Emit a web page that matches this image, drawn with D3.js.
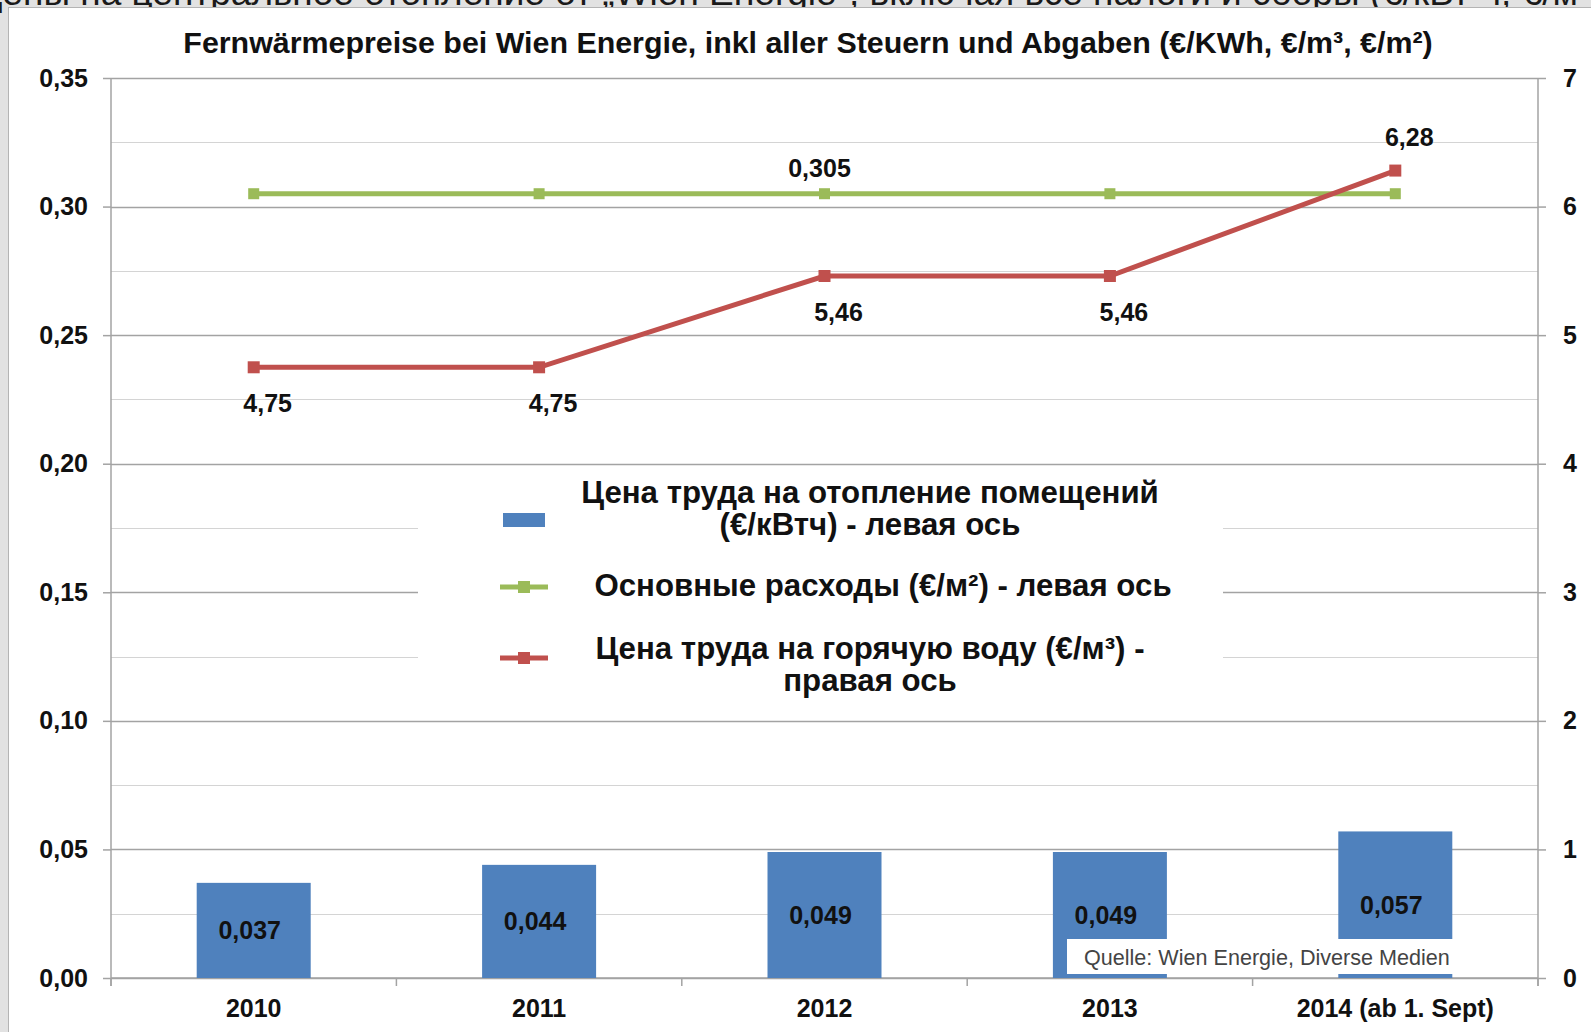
<!DOCTYPE html>
<html>
<head>
<meta charset="utf-8">
<script src="https://cdn.jsdelivr.net/npm/d3@7"></script>
<style>
  body { margin: 0; background: #dcdcdc; }
  svg { display: block; }
  text { font-family: "Liberation Sans", Arial, sans-serif; }
</style>
</head>
<body>
<script>
// data
const years = ['2010', '2011', '2012', '2013', '2014 (ab 1. Sept)']
const heatPrice = [0.037, 0.044, 0.049, 0.049, 0.057]      // bars, left axis
const baseCost = [0.305, 0.305, 0.305, 0.305, 0.305]       // green, left axis
const waterPrice = [4.75, 4.75, 5.46, 5.46, 6.28]          // red, right axis
const leftTicks = [0, 0.05, 0.10, 0.15, 0.20, 0.25, 0.30, 0.35]
const rightTicks = [0, 1, 2, 3, 4, 5, 6, 7]
const gridValues = d3.range(0, 0.3501, 0.025)

const title = 'Fernwärmepreise bei Wien Energie, inkl aller Steuern und Abgaben (€/KWh, €/m³, €/m²)'
const pageCaption = 'Цены на центральное отопление от „Wien Energie“, включая все налоги и сборы (€/кВт·ч, €/м³, €/м²)'
const legendItems = [
  {kind: 'bar', lines: ['Цена труда на отопление помещений', '(€/кВтч) - левая ось']},
  {kind: 'green', lines: ['Основные расходы (€/м²) - левая ось']},
  {kind: 'red', lines: ['Цена труда на горячую воду (€/м³) -', 'правая ось']}
]
const source = 'Quelle: Wien Energie, Diverse Medien'

const blue = '#4f81bd', green = '#9bbb59', red = '#c0504d'

// set the font size of a text so that it is w pixels wide
function fitWidth(sel, w) {
  const size = +sel.attr('font-size')
  sel.attr('font-size', size * w / sel.node().getComputedTextLength())
}

function drawChart() {
  const svgWidth = 1591, svgHeight = 1032
  const plot = {left: 111, right: 1538, top: 78, bottom: 978}
  const comma = d3.formatLocale({decimal: ',', thousands: ' ', grouping: [3], currency: ['', '€']})

  const svg = d3.select('body').append('svg')
    .attr('width', svgWidth)
    .attr('height', svgHeight)

  // page around the chart frame (its caption is cut by the top edge)
  svg.append('rect').attr('width', svgWidth).attr('height', svgHeight).attr('fill', '#e2e2e2')
  svg.append('text')
    .attr('x', -25).attr('y', 5)
    .attr('font-size', 37)
    .attr('fill', '#1a1a1a')
    .text(pageCaption)
  svg.append('rect')
    .attr('x', 8.5).attr('y', 7.5)
    .attr('width', svgWidth).attr('height', svgHeight)
    .attr('fill', '#fff')
    .attr('stroke', '#b4b4b4')

  const x = d3.scaleBand().domain(years).range([plot.left, plot.right])
  const yL = d3.scaleLinear().domain([0, 0.35]).range([plot.bottom, plot.top])
  const yR = d3.scaleLinear().domain([0, 7]).range([plot.bottom, plot.top])
  const cx = d => x(d) + x.bandwidth() / 2

  // gridlines, major every 0.05, minor in between
  svg.append('g').selectAll('line')
    .data(gridValues)
    .join('line')
    .attr('x1', plot.left).attr('x2', plot.right)
    .attr('y1', d => Math.round(yL(d)) + 0.5).attr('y2', d => Math.round(yL(d)) + 0.5)
    .attr('stroke', (d, i) => i % 2 === 0 ? '#a3a3a3' : '#d4d4d4')
    .attr('stroke-width', (d, i) => i % 2 === 0 ? 1.5 : 1.2)

  // legend box covers the gridlines
  const legend = svg.append('g')
  legend.append('rect')
    .attr('x', 418).attr('y', 470)
    .attr('width', 805).attr('height', 242)
    .attr('fill', '#fff')

  // axes
  const axisLeft = svg.append('g')
    .attr('transform', 'translate(' + plot.left + ',0)')
    .call(d3.axisLeft(yL).tickValues(leftTicks).tickSize(8).tickPadding(15)
      .tickFormat(comma.format('.2f')))
  const axisRight = svg.append('g')
    .attr('transform', 'translate(' + plot.right + ',0)')
    .call(d3.axisRight(yR).tickValues(rightTicks).tickSize(8).tickPadding(17)
      .tickFormat(d3.format('d')))
  const axisBottom = svg.append('g')
    .attr('transform', 'translate(0,' + plot.bottom + ')')
    .call(d3.axisBottom(x).tickSize(0).tickPadding(21))
  axisBottom.append('g').selectAll('line')
    .data(years.map(d => x(d)).concat([plot.right]))
    .join('line')
    .attr('x1', d => d).attr('x2', d => d)
    .attr('y1', 0).attr('y2', 8)
    .attr('stroke', '#a3a3a3').attr('stroke-width', 1.5)

  for (const g of [axisLeft, axisRight, axisBottom]) {
    g.select('.domain').attr('stroke', '#a3a3a3').attr('stroke-width', 1.5)
    g.selectAll('.tick line').attr('stroke', '#a3a3a3').attr('stroke-width', 1.5)
    g.selectAll('.tick text')
      .attr('font-family', '"Liberation Sans", Arial, sans-serif')
      .attr('font-weight', 'bold')
      .attr('font-size', 25)
      .attr('fill', '#111')
  }
  axisLeft.select('.domain').attr('d', 'M0,' + plot.top + 'V' + (plot.bottom + 8))
  axisRight.select('.domain').attr('d', 'M0,' + plot.top + 'V' + (plot.bottom + 8))
  axisBottom.select('.domain').attr('d', 'M' + plot.left + ',0H' + plot.right)

  // bars
  const barW = 114
  svg.append('g').selectAll('rect')
    .data(heatPrice)
    .join('rect')
    .attr('x', (d, i) => cx(years[i]) - barW / 2)
    .attr('y', d => yL(d))
    .attr('width', barW)
    .attr('height', d => plot.bottom - yL(d))
    .attr('fill', blue)

  svg.append('g').selectAll('text')
    .data(heatPrice)
    .join('text')
    .attr('x', (d, i) => cx(years[i]) - 4)
    .attr('y', d => (yL(d) + plot.bottom) / 2 + 9)
    .attr('text-anchor', 'middle')
    .attr('font-weight', 'bold')
    .attr('font-size', 25)
    .attr('fill', '#111')
    .text(d => comma.format('.3f')(d))

  // green line
  const greenLine = d3.line().x((d, i) => cx(years[i])).y(d => yL(d))
  svg.append('path')
    .datum(baseCost)
    .attr('d', greenLine)
    .attr('fill', 'none')
    .attr('stroke', green)
    .attr('stroke-width', 5)
  svg.append('g').selectAll('rect')
    .data(baseCost)
    .join('rect')
    .attr('x', (d, i) => cx(years[i]) - 5.5)
    .attr('y', d => yL(d) - 5.5)
    .attr('width', 11).attr('height', 11)
    .attr('fill', green)
  svg.append('text')
    .attr('x', cx(years[2]) - 5)
    .attr('y', yL(baseCost[2]) - 17)
    .attr('text-anchor', 'middle')
    .attr('font-weight', 'bold')
    .attr('font-size', 25)
    .attr('fill', '#111')
    .text(comma.format('.3f')(baseCost[2]))

  // red line
  const redLine = d3.line().x((d, i) => cx(years[i])).y(d => yR(d))
  svg.append('path')
    .datum(waterPrice)
    .attr('d', redLine)
    .attr('fill', 'none')
    .attr('stroke', red)
    .attr('stroke-width', 5)
  svg.append('g').selectAll('rect')
    .data(waterPrice)
    .join('rect')
    .attr('x', (d, i) => cx(years[i]) - 6)
    .attr('y', d => yR(d) - 6)
    .attr('width', 12).attr('height', 12)
    .attr('fill', red)
  const last = waterPrice.length - 1
  svg.append('g').selectAll('text')
    .data(waterPrice)
    .join('text')
    .attr('x', (d, i) => cx(years[i]) + 14)
    .attr('y', (d, i) => yR(d) + (i === last ? -25 : 45))
    .attr('text-anchor', 'middle')
    .attr('font-weight', 'bold')
    .attr('font-size', 25)
    .attr('fill', '#111')
    .text(d => comma.format('.2f')(d))

  // legend entries
  const rowY = [494, 587, 650]
  const keyDy = [26, 0, 8]
  const texts = []
  legendItems.forEach(function(item, i) {
    const g = legend.append('g')
    const keyY = rowY[i] + keyDy[i]
    if (item.kind === 'bar') {
      g.append('rect').attr('x', 503).attr('y', keyY - 7).attr('width', 42).attr('height', 14).attr('fill', blue)
    } else {
      const c = item.kind === 'green' ? green : red
      g.append('line').attr('x1', 500).attr('x2', 548).attr('y1', keyY).attr('y2', keyY)
        .attr('stroke', c).attr('stroke-width', 5)
      g.append('rect').attr('x', 518).attr('y', keyY - 6).attr('width', 12).attr('height', 12).attr('fill', c)
    }
    g.selectAll('text')
      .data(item.lines)
      .join('text')
      .attr('x', i === 1 ? 883 : 870)
      .attr('y', (d, j) => rowY[i] + 9 + j * 32)
      .attr('text-anchor', 'middle')
      .attr('font-family', '"DejaVu Sans", Verdana, sans-serif')
      .attr('font-weight', 'bold')
      .attr('font-size', 24)
      .attr('fill', '#111')
      .text(d => d)
      .each(function() { texts.push(this) })
  })
  // the first line sets the size for all legend lines
  const first = d3.select(texts[0])
  fitWidth(first, 578)
  d3.selectAll(texts).attr('font-size', first.attr('font-size'))

  // source box
  svg.append('rect')
    .attr('x', 1067).attr('y', 939)
    .attr('width', 389).attr('height', 35)
    .attr('fill', '#fff')
  const src = svg.append('text')
    .attr('x', 1084).attr('y', 965)
    .attr('font-size', 20)
    .attr('fill', '#444')
    .text(source)
  fitWidth(src, 366)

  // title, fitted to the width it has in the picture
  const t = svg.append('text')
    .attr('x', 808).attr('y', 53)
    .attr('text-anchor', 'middle')
    .attr('font-weight', 'bold')
    .attr('font-size', 26)
    .attr('fill', '#111')
    .text(title)
  fitWidth(t, 1250)
}

drawChart()
</script>
</body>
</html>
